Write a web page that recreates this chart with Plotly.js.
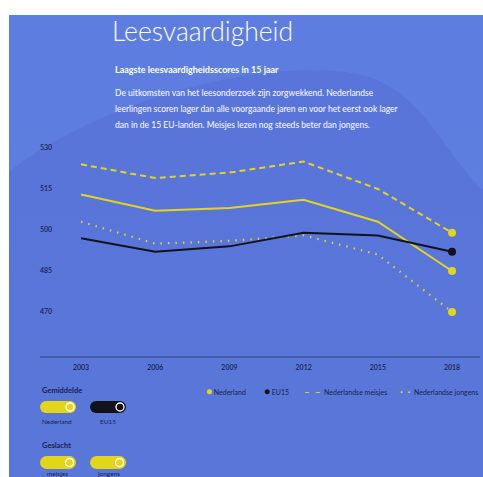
<!DOCTYPE html>
<html><head><meta charset="utf-8">
<script src="https://cdn.plot.ly/plotly-3.0.1.min.js"></script>
<style>
html,body{margin:0;padding:0;background:#fff;width:483px;height:477px;overflow:hidden;}
#wrap{position:absolute;left:9px;top:15px;width:474px;height:462px;background:linear-gradient(180deg,#5d7de0 0%,#5e82df 100%);}
#chart{width:474px;height:462px;}
</style></head>
<body><div id="wrap"><div id="chart"></div></div>
<script>
// ---- data ----
const years = [2003, 2006, 2009, 2012, 2015, 2018];
const nederland = [513, 507, 508, 511, 503, 485];
const eu15 = [497, 492, 494, 499, 498, 492];
const meisjes = [524, 519, 521, 525, 515, 499];
const jongens = [503, 495, 496, 498, 491, 470];
const yTicks = [470, 485, 500, 515, 530];
const seriesNames = ["Nederland", "EU15", "Nederlandse meisjes", "Nederlandse jongens"];

const YEL = "#e2d51a", BLK = "#111318", TXT = "#1b2150";
const FONT = "Lato, 'Open Sans', sans-serif";

// layout geometry
const W = 474, H = 462, mL = 31, mR = 3, mT = 125, mB = 121;
const PW = W - mL - mR, PH = H - mT - mB;
const OX = 9, OY = 15;
const px = x => (x - OX - mL) / PW;
const py = y => 1 - (y - OY - mT) / PH;

const last = a => a[a.length - 1];
const lastYear = [last(years)];

const traces = [
  {x: years, y: meisjes, mode: "lines", line: {color: YEL, width: 2, dash: "6px,4px"}},
  {x: years, y: jongens, mode: "lines", line: {color: YEL, width: 2.2, dash: "1.5px,6px"}},
  {x: years, y: nederland, mode: "lines", line: {color: YEL, width: 2}},
  {x: years, y: eu15, mode: "lines", line: {color: BLK, width: 2}},
  {x: lastYear, y: [last(meisjes)], mode: "markers", marker: {color: YEL, size: 8}},
  {x: lastYear, y: [last(jongens)], mode: "markers", marker: {color: YEL, size: 8}},
  {x: lastYear, y: [last(nederland)], mode: "markers", marker: {color: YEL, size: 8}},
  {x: lastYear, y: [last(eu15)], mode: "markers", marker: {color: BLK, size: 8}}
].map(t => Object.assign(t, {showlegend: false, hoverinfo: "skip"}));

function ann(text, x, y, size, opts) {
  return Object.assign({text: text, xref: "paper", yref: "paper", x: px(x), y: py(y),
    xanchor: "left", yanchor: "middle", showarrow: false,
    font: {family: FONT, size: size, color: "#ffffff"}}, opts || {});
}
const dark = (s) => ({font: {family: FONT, size: s, color: TXT}});

const annotations = [
  ann("<b>Laagste leesvaardigheidsscores in 15 jaar</b>", 113, 69, 9),
  ann("De uitkomsten van het leesonderzoek zijn zorgwekkend. Nederlandse", 113, 93, 8.5),
  ann("leerlingen scoren lager dan alle voorgaande jaren en voor het eerst ook lager", 113, 109, 8.5),
  ann("dan in de 15 EU-landen. Meisjes lezen nog steeds beter dan jongens.", 113, 125, 8.5),
  // legend
  ann("<span style='color:" + YEL + ";font-size:10px'>●</span> " + seriesNames[0], 204, 391, 7, dark(7)),
  ann("<span style='color:" + BLK + ";font-size:10px'>●</span> " + seriesNames[1], 262, 391, 7, dark(7)),
  ann("<span style='color:" + YEL + ";font-size:10px'><b>–  –</b></span>  " + seriesNames[2], 302, 391, 7, dark(7)),
  ann("<span style='color:" + YEL + ";font-size:10px'><b>·  ·</b></span>  " + seriesNames[3], 398, 391, 7, dark(7)),
  // controls
  ann("<b>Gemiddelde</b>", 40, 390, 7.5, dark(7.5)),
  ann(seriesNames[0], 57, 421, 6.5, Object.assign({xanchor: "center"}, dark(6.5))),
  ann("EU15", 108, 421, 6.5, Object.assign({xanchor: "center"}, dark(6.5))),
  ann("<b>Geslacht</b>", 40, 445, 7.5, dark(7.5)),
  ann("meisjes", 57, 473.5, 6.5, Object.assign({xanchor: "center"}, dark(6.5))),
  ann("jongens", 108, 473.5, 6.5, Object.assign({xanchor: "center"}, dark(6.5)))
];

function pill(x0, x1, y0, y1, color) {
  const r = (y1 - y0) / 2;
  const base = {xref: "paper", yref: "paper", fillcolor: color, line: {width: 0}, layer: "above"};
  return [
    Object.assign({type: "rect", x0: px(x0 + r), x1: px(x1 - r), y0: py(y1), y1: py(y0)}, base),
    Object.assign({type: "circle", x0: px(x0), x1: px(x0 + 2 * r), y0: py(y1), y1: py(y0)}, base),
    Object.assign({type: "circle", x0: px(x1 - 2 * r), x1: px(x1), y0: py(y1), y1: py(y0)}, base),
    {type: "circle", xref: "paper", yref: "paper", x0: px(x1 - r - 4), x1: px(x1 - r + 4),
     y0: py(y0 + r + 4), y1: py(y0 + r - 4), line: {color: "#ffffff", width: 1.3}, layer: "above"}
  ];
}

function P(x, y) { return px(x).toFixed(4) + "," + py(y).toFixed(4); }
const wavePath = "M" + P(9, 172) + " C" + P(80, 115) + " " + P(230, 60) + " " + P(345, 72) +
  " C" + P(420, 80) + " " + P(440, 150) + " " + P(483, 190) + " L" + P(483, 477) + " L" + P(9, 477) + " Z";

const shapes = [
  {type: "path", xref: "paper", yref: "paper", path: wavePath, fillcolor: "rgba(80,95,205,0.3)", line: {width: 0}, layer: "below"}
].concat(pill(40, 76, 401, 413, YEL), pill(90, 126, 401, 413, BLK),
         pill(40, 76, 456, 469, YEL), pill(90, 126, 456, 469, YEL));

const layout = {
  width: W, height: H,
  margin: {l: mL, r: mR, t: mT, b: mB, pad: 0},
  paper_bgcolor: "rgba(0,0,0,0)", plot_bgcolor: "rgba(0,0,0,0)",
  showlegend: false,
  title: {text: "Leesvaardigheid", xref: "container", yref: "container",
    x: (112 - OX) / W, xanchor: "left", y: 1 - (32 - OY) / H, yanchor: "middle",
    font: {family: FONT, size: 26.5, color: "#ffffff", weight: 300}},
  xaxis: {range: [2001.34, 2019.13], tickvals: years, ticktext: years.map(String),
    showgrid: false, zeroline: false, showline: true, linecolor: "#4559ad", linewidth: 1.5,
    ticks: "", ticklabelstandoff: 4,
    tickfont: {family: FONT, size: 7, color: TXT, weight: 600}},
  yaxis: {range: [453.9, 532.9], tickvals: yTicks, ticktext: yTicks.map(String),
    showgrid: false, zeroline: false, showline: false, ticks: "",
    ticklabelposition: "inside", ticklabelstandoff: -3,
    tickfont: {family: FONT, size: 7, color: TXT, weight: 600}},
  annotations: annotations,
  shapes: shapes
};

Plotly.newPlot("chart", traces, layout, {displayModeBar: false, staticPlot: true});
</script></body></html>
